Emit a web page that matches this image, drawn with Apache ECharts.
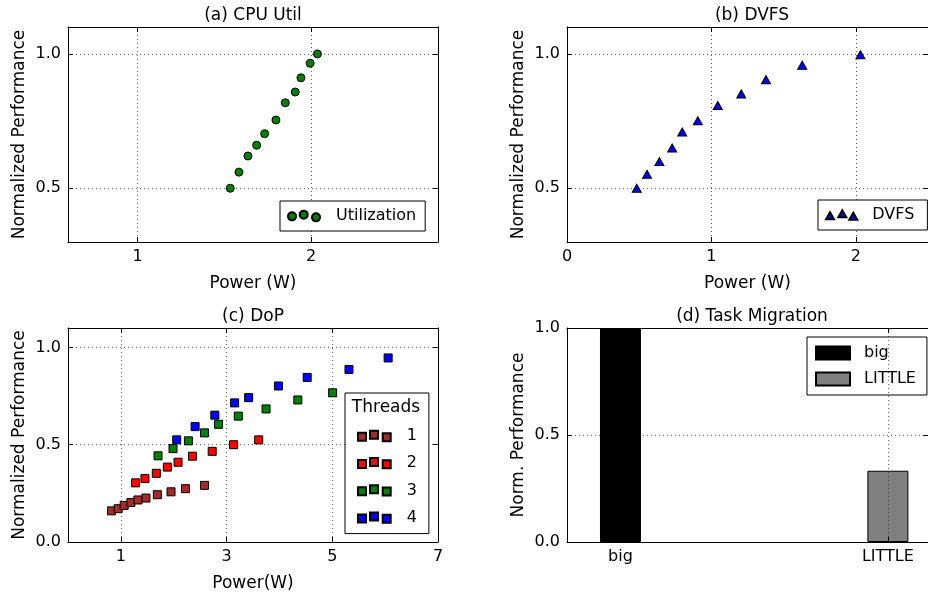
<!DOCTYPE html>
<html>
<head>
<meta charset="utf-8">
<script src="https://cdn.jsdelivr.net/npm/echarts@6/dist/echarts.min.js"></script>
<style>
html,body{margin:0;padding:0;background:#fff;}
#chart{width:928px;height:596px;}
</style>
</head>
<body>
<div id="chart"></div>
<script>
// ---- data ----
const utilPower = [1.534, 1.584, 1.636, 1.686, 1.732, 1.797, 1.851, 1.908, 1.941, 1.994, 2.036];
const utilPerf  = [0.500, 0.560, 0.620, 0.660, 0.703, 0.754, 0.818, 0.858, 0.911, 0.965, 1.000];

const dvfsPower = [0.483, 0.554, 0.640, 0.728, 0.798, 0.906, 1.044, 1.207, 1.378, 1.629, 2.032];
const dvfsPerf  = [0.500, 0.552, 0.599, 0.650, 0.709, 0.751, 0.808, 0.851, 0.904, 0.958, 0.997];

const dop1Power = [0.823, 0.949, 1.063, 1.190, 1.323, 1.475, 1.690, 1.949, 2.222, 2.582];
const dop1Perf  = [0.160, 0.171, 0.188, 0.203, 0.216, 0.226, 0.243, 0.258, 0.274, 0.291];
const dop2Power = [1.278, 1.456, 1.671, 1.880, 2.082, 2.354, 2.728, 3.133, 3.608];
const dop2Perf  = [0.304, 0.326, 0.353, 0.385, 0.410, 0.441, 0.466, 0.500, 0.525];
const dop3Power = [1.703, 1.987, 2.278, 2.582, 2.848, 3.222, 3.747, 4.348, 5.006];
const dop3Perf  = [0.443, 0.480, 0.520, 0.561, 0.605, 0.647, 0.684, 0.730, 0.767];
const dop4Power = [2.057, 2.405, 2.778, 3.152, 3.418, 3.981, 4.525, 5.316, 6.057];
const dop4Perf  = [0.525, 0.593, 0.652, 0.715, 0.742, 0.802, 0.846, 0.887, 0.946];

const migCategories = ['big', 'LITTLE'];
const migValues = [1.0, 0.333];

const xTicksA = [1, 2];
const yTicksA = [0.5, 1.0];
const xTicksB = [0, 1, 2];
const yTicksB = [0.5, 1.0];
const xTicksC = [1, 3, 5, 7];
const yTicksC = [0.0, 0.5, 1.0];
const xTicksD = [0, 1];
const yTicksD = [0.0, 0.5, 1.0];

const threadNames = ['1', '2', '3', '4'];

// ---- helpers ----
const FONT = 'DejaVu Sans';
const zip = (a, b) => a.map((v, i) => [v, b[i]]);

const grids = [
  {left: 68, top: 27, width: 370, height: 215},
  {left: 567, top: 27, width: 370, height: 215},
  {left: 68, top: 328, width: 370, height: 214},
  {left: 567, top: 328, width: 370, height: 214}
];

const gridLine = {show: true, lineStyle: {color: '#666', type: [1, 3], width: 1}};
const gridLineDark = {show: true, lineStyle: {color: '#000', opacity: 0.55, type: [1, 3], width: 1}};

function mainX(gi, min, max, ticks, name, fmt, z, split) {
  return {
    type: 'value', gridIndex: gi, position: 'bottom', min: min, max: max,
    name: name, nameLocation: 'middle', nameGap: 33,
    nameTextStyle: {fontFamily: FONT, fontSize: 17, color: '#000'},
    axisLine: {show: true, onZero: false, lineStyle: {color: '#000', width: 1}},
    axisTick: {show: true, inside: true, length: 5, customValues: ticks, lineStyle: {color: '#000'}},
    axisLabel: {show: true, customValues: ticks, margin: 7, fontFamily: FONT, fontSize: 16, color: '#000', formatter: fmt},
    splitLine: split || gridLine,
    z: z || 0
  };
}
function topX(gi, min, max, ticks) {
  return {
    type: 'value', gridIndex: gi, position: 'top', min: min, max: max,
    axisLine: {show: true, onZero: false, lineStyle: {color: '#000', width: 1}},
    axisTick: {show: true, inside: true, length: 5, customValues: ticks, lineStyle: {color: '#000'}},
    axisLabel: {show: false}, splitLine: {show: false}
  };
}
function mainY(gi, min, max, ticks, name, fmt) {
  return {
    type: 'value', gridIndex: gi, position: 'left', min: min, max: max,
    name: name, nameLocation: 'middle', nameGap: 40,
    nameTextStyle: {fontFamily: FONT, fontSize: 17, color: '#000'},
    axisLine: {show: true, onZero: false, lineStyle: {color: '#000', width: 1}},
    axisTick: {show: true, inside: true, length: 5, customValues: ticks, lineStyle: {color: '#000'}},
    axisLabel: {show: true, customValues: ticks, margin: 7, fontFamily: FONT, fontSize: 16, color: '#000', formatter: fmt},
    splitLine: gridLine
  };
}
function rightY(gi, min, max, ticks) {
  return {
    type: 'value', gridIndex: gi, position: 'right', min: min, max: max,
    axisLine: {show: true, onZero: false, lineStyle: {color: '#000', width: 1}},
    axisTick: {show: true, inside: true, length: 5, customValues: ticks, lineStyle: {color: '#000'}},
    axisLabel: {show: false}, splitLine: {show: false}
  };
}
const f1 = v => v.toFixed(1);
const f0 = v => String(Math.round(v));

const titleStyle = {fontFamily: FONT, fontSize: 17, fontWeight: 'normal', color: '#000'};
const legendText = {fontFamily: FONT, fontSize: 16, color: '#000', padding: [0, 0, 0, 10], lineHeight: 18};

const iconCircles = 'path://M0,5.7a4,4 0 1,0 8,0a4,4 0 1,0 -8,0Z M11.7,4a4,4 0 1,0 8,0a4,4 0 1,0 -8,0Z M24,6.7a4,4 0 1,0 8,0a4,4 0 1,0 -8,0Z';
const iconTris = 'path://M0,9L4,2L8,9Z M12.3,7L16.3,0L20.3,7Z M23.3,9.7L27.3,2.7L31.3,9.7Z';
const iconSquares = 'path://M0,2h8v8h-8Z M12,0h8v8h-8Z M24.7,2.3h8v8h-8Z';

const dopColors = ['#a52a2a', '#ff0000', '#008000', '#0000ff'];
const dopData = [zip(dop1Power, dop1Perf), zip(dop2Power, dop2Perf), zip(dop3Power, dop3Perf), zip(dop4Power, dop4Perf)];

const option = {
  animation: false,
  backgroundColor: '#fff',
  textStyle: {fontFamily: FONT},
  title: [
    {text: '(a) CPU Util', left: 253, top: 7, textAlign: 'center', padding: 0, textStyle: titleStyle},
    {text: '(b) DVFS', left: 752, top: 7, textAlign: 'center', padding: 0, textStyle: titleStyle},
    {text: '(c) DoP', left: 253, top: 308, textAlign: 'center', padding: 0, textStyle: titleStyle},
    {text: '(d) Task Migration', left: 752, top: 308, textAlign: 'center', padding: 0, textStyle: titleStyle},
    {text: 'Threads', left: 386, top: 399, textAlign: 'center', padding: 0, textStyle: {fontFamily: FONT, fontSize: 17, fontWeight: 'normal', color: '#000'}}
  ],
  grid: grids,
  xAxis: [
    mainX(0, 0.6, 2.73, xTicksA, 'Power (W)', f0),
    mainX(1, 0, 2.5, xTicksB, 'Power (W)', f0),
    mainX(2, 0, 7, xTicksC, 'Power(W)', f0),
    mainX(3, -0.2, 1.15, xTicksD, '', v => migCategories[Math.round(v)], 5, gridLineDark),
    topX(0, 0.6, 2.73, xTicksA),
    topX(1, 0, 2.5, xTicksB),
    topX(2, 0, 7, xTicksC),
    topX(3, -0.2, 1.15, xTicksD)
  ],
  yAxis: [
    mainY(0, 0.3, 1.1, yTicksA, 'Normalized Performance', f1),
    mainY(1, 0.3, 1.1, yTicksB, 'Normalized Performance', f1),
    mainY(2, 0, 1.1, yTicksC, 'Normalized Performance', f1),
    mainY(3, 0, 1.0, yTicksD, 'Norm. Performance', f1),
    rightY(0, 0.3, 1.1, yTicksA),
    rightY(1, 0.3, 1.1, yTicksB),
    rightY(2, 0, 1.1, yTicksC),
    rightY(3, 0, 1.0, yTicksD)
  ],
  legend: [
    {
      data: [{name: 'Utilization', icon: iconCircles}],
      left: 280, top: 201, orient: 'vertical', selectedMode: false,
      itemWidth: 32, itemHeight: 10.7, padding: [6, 9, 6, 7],
      backgroundColor: '#fff', borderColor: '#000', borderWidth: 1, borderRadius: 0,
      textStyle: Object.assign({}, legendText, {padding: [0, 0, 0, 11]})
    },
    {
      data: [{name: 'DVFS', icon: iconTris}],
      left: 818, top: 200, orient: 'vertical', selectedMode: false,
      itemWidth: 31.3, itemHeight: 9.7, padding: [6, 13, 6, 7],
      backgroundColor: '#fff', borderColor: '#000', borderWidth: 1, borderRadius: 0,
      textStyle: Object.assign({}, legendText, {padding: [0, 0, 0, 10]})
    },
    {
      data: threadNames.map(n => ({name: n, icon: iconSquares})),
      left: 345, top: 393, orient: 'vertical', selectedMode: false,
      itemWidth: 32.7, itemHeight: 10.3, itemGap: 9.2, padding: [34, 12, 7, 12],
      backgroundColor: '#fff', borderColor: '#000', borderWidth: 1, borderRadius: 0,
      textStyle: Object.assign({}, legendText, {padding: [0, 0, 0, 11]})
    },
    {
      data: [{name: 'big', icon: 'rect'}, {name: 'LITTLE', icon: 'rect'}],
      left: 807, top: 337, orient: 'vertical', selectedMode: false,
      itemWidth: 34, itemHeight: 13, itemGap: 8, padding: [7, 11, 7, 8],
      backgroundColor: '#fff', borderColor: '#000', borderWidth: 1, borderRadius: 0,
      textStyle: Object.assign({}, legendText, {padding: [0, 0, 0, 9]})
    }
  ],
  series: [
    {
      type: 'scatter', name: 'Utilization', xAxisIndex: 0, yAxisIndex: 0,
      data: zip(utilPower, utilPerf), symbol: 'circle', symbolSize: 8,
      itemStyle: {color: '#008000', borderColor: '#000', borderWidth: 1, opacity: 1}
    },
    {
      type: 'scatter', name: 'DVFS', xAxisIndex: 1, yAxisIndex: 1,
      data: zip(dvfsPower, dvfsPerf), symbol: 'triangle', symbolSize: [9, 8],
      itemStyle: {color: '#0000ff', borderColor: '#000', borderWidth: 1, opacity: 1}
    },
    ...threadNames.map((n, i) => ({
      type: 'scatter', name: n, xAxisIndex: 2, yAxisIndex: 2,
      data: dopData[i], symbol: 'rect', symbolSize: 8,
      itemStyle: {color: dopColors[i], borderColor: '#000', borderWidth: 1, opacity: 1}
    })),
    {
      type: 'bar', name: 'big', xAxisIndex: 3, yAxisIndex: 3,
      data: [[0, migValues[0]]], barWidth: 41, barGap: '-100%',
      itemStyle: {color: '#000', borderColor: '#000', borderWidth: 1}
    },
    {
      type: 'bar', name: 'LITTLE', xAxisIndex: 3, yAxisIndex: 3,
      data: [[1, migValues[1]]], barWidth: 41, barGap: '-100%',
      itemStyle: {color: '#808080', borderColor: '#000', borderWidth: 1}
    }
  ]
};

const chart = echarts.init(document.getElementById('chart'), null, {renderer: 'canvas'});
chart.setOption(option);
</script>
</body>
</html>
